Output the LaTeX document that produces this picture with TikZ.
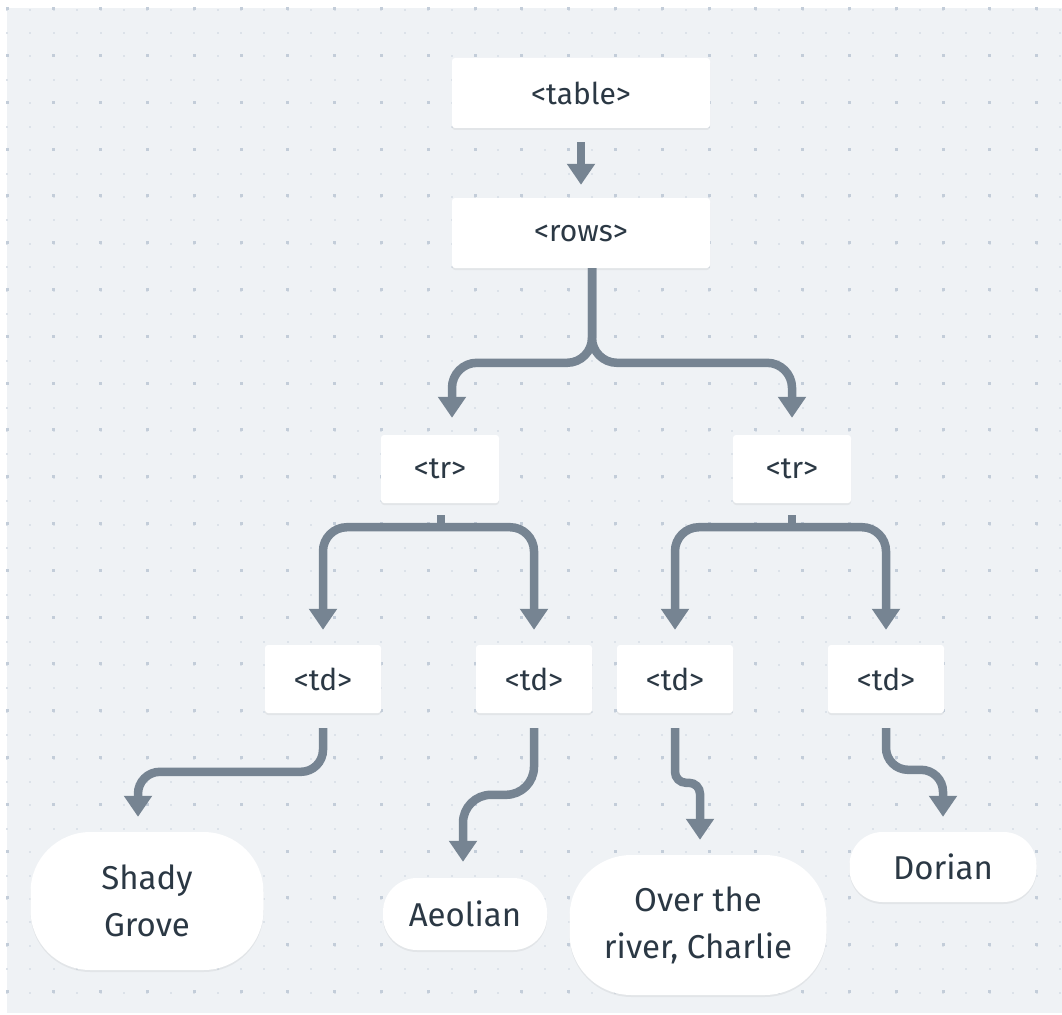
\documentclass[tikz,border=0pt]{standalone}
\usepackage{fontspec}
\setmainfont{Fira Sans}
\usetikzlibrary{arrows.meta,calc,shadows}

\definecolor{canvas}{HTML}{EFF2F5}
\definecolor{dotminor}{HTML}{DCE2E9}
\definecolor{dotmajor}{HTML}{C3CDD9}
\definecolor{link}{HTML}{768492}
\definecolor{ink}{HTML}{2B3844}

\tikzset{
  tip/.tip={Triangle[width=27pt,length=21pt]},
  softshadow/.style={drop shadow={opacity=0.05, shadow xshift=0pt,
      shadow yshift=-2pt, fill=black}},
  tagbox/.style={fill=white, rounded corners=3pt, text=ink, inner sep=0pt,
      font=\fontsize{30}{36}\selectfont, softshadow},
  leaf/.style={fill=white, text=ink, inner sep=0pt, align=center,
      font=\fontsize{33}{47}\selectfont, softshadow},
  wire/.style={draw=link, line width=8.5pt},
  conn/.style={wire, -tip},
  bothconn/.style={wire, tip-tip},
}

\begin{document}
\begin{tikzpicture}[x=1pt,y=-1pt]
\useasboundingbox (0,0) rectangle (1062,1014);
\fill[white] (0,0) rectangle (1062,1014);
\fill[canvas] (7,8) rectangle (1062,1013);

% dotted grid: light dots everywhere, darker dots on every second line
\foreach \i in {0,...,45}{
  \foreach \j in {0,...,42}{
    \fill[dotminor] ({7+23.4*\i-1},{11.7+23.4*\j-1}) rectangle ++(2,-2);
  }
}
\foreach \i in {0,2,...,44}{
  \foreach \j in {0,2,...,42}{
    \fill[dotmajor] ({7+23.4*\i-1.5},{11.7+23.4*\j-1.5}) rectangle ++(3,-3);
  }
}

% tag nodes
\node[tagbox, minimum width=258pt, minimum height=70pt] (table) at (581,93) {<table>};
\node[tagbox, minimum width=258pt, minimum height=70pt] (rows) at (581,233) {<rows>};
\node[tagbox, minimum width=118pt, minimum height=68pt] (trL) at (440,469) {<tr>};
\node[tagbox, minimum width=118pt, minimum height=68pt] (trR) at (792,469) {<tr>};
\node[tagbox, minimum width=116pt, minimum height=68pt] (td1) at (323,679) {<td>};
\node[tagbox, minimum width=116pt, minimum height=68pt] (td2) at (534,679) {<td>};
\node[tagbox, minimum width=116pt, minimum height=68pt] (td3) at (675,679) {<td>};
\node[tagbox, minimum width=116pt, minimum height=68pt] (td4) at (886,679) {<td>};

% cell contents
\node[leaf, rounded corners=60pt, minimum width=233pt, minimum height=138pt] (shady) at (147,901) {Shady\\Grove};
\node[leaf, rounded corners=34pt, minimum width=164pt, minimum height=72pt] (aeol) at (465,914) {Aeolian};
\node[leaf, rounded corners=62pt, minimum width=257pt, minimum height=140pt] (over) at (698,925) {Over the\\river, Charlie};
\node[leaf, rounded corners=33pt, minimum width=187pt, minimum height=70pt] (dorian) at (943,867) {Dorian};

% table -> rows
\draw[conn] ($(table.south)+(0,14)$) -- ($(rows.north)+(0,-13)$);

% rows -> both rows
\draw[conn, rounded corners=25pt] ($(rows.south)+(11,0)$) |- ($(trL.north)+(12,-72)$) -- ($(trL.north)+(12,-17)$);
\draw[conn, rounded corners=25pt] ($(rows.south)+(11,0)$) |- ($(trR.north)+(0,-72)$) -- ($(trR.north)+(0,-17)$);

% rows -> cells
\draw[wire] ($(trL.south)+(1,12)$) -- ($(trL.south)+(1,26)$);
\draw[bothconn, rounded corners=24pt] ($(td1.north)+(0,-15)$) |- ($(trL.south)+(1,24)$) -| ($(td2.north)+(0,-15)$);
\draw[wire] ($(trR.south)+(0,12)$) -- ($(trR.south)+(0,26)$);
\draw[bothconn, rounded corners=24pt] ($(td3.north)+(0,-15)$) |- ($(trR.south)+(0,24)$) -| ($(td4.north)+(0,-15)$);

% cells -> contents
\draw[conn, rounded corners=22pt] ($(td1.south)+(0,15)$) |- ($(shady.north)+(-9,-60)$) -- ($(shady.north)+(-9,-15)$);
\draw[conn, rounded corners=28pt] ($(td2.south)+(0,15)$) |- ($(aeol.north)+(-2,-83)$) -- ($(aeol.north)+(-2,-16)$);
\draw[conn, rounded corners=11pt] ($(td3.south)+(0,15)$) |- ($(over.north)+(2,-72)$) -- ($(over.north)+(2,-15)$);
\draw[conn, rounded corners=22pt] ($(td4.south)+(0,15)$) |- ($(dorian.north)+(0,-62)$) -- ($(dorian.north)+(0,-15)$);
\end{tikzpicture}
\end{document}
